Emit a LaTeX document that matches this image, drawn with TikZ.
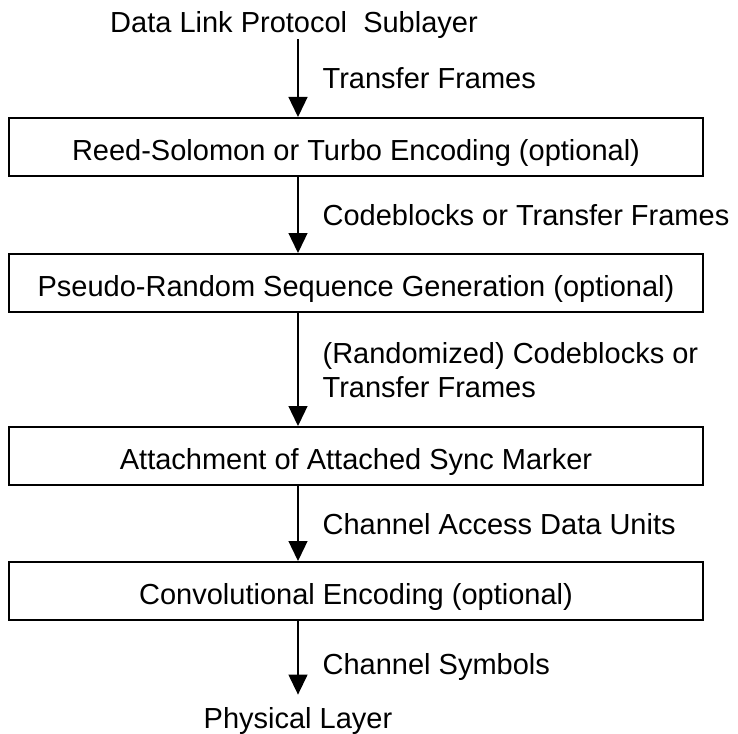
\documentclass[tikz,border=0pt]{standalone}
\usepackage{fontspec}
\setmainfont{Liberation Sans}
\usetikzlibrary{arrows.meta, positioning}

\begin{document}
\begin{tikzpicture}
	[   x=0.5pt, y=-0.5pt,
	    txt/.style={font=\fontsize{14.5}{17}\selectfont, inner sep=0pt},
	    layer/.style={txt, draw=black, line width=1pt, minimum width=347pt, text height=21pt, text depth=8pt, anchor=north},
	    flowlabel/.style={txt, anchor=west, xshift=12pt, text depth=0pt, align=left},
	]
	\tikzset{normal arrow/.style={draw, line width=0.65pt, -{Triangle[length=10pt,width=9.5pt]}}}
	\useasboundingbox (0,0) rectangle (738,733);
	\coordinate (axis) at (298,0);
	
	\node[txt,anchor=base] (dlps) at (294,33) {Data Link Protocol\ \ Sublayer};
	\node[txt,anchor=base] (phys) at (298,728) {Physical Layer};
	
	\foreach \y/\name/\desc in {117/rs/Reed-Solomon or Turbo Encoding (optional),
		253/prs/Pseudo-Random Sequence Generation (optional),
		426/asm/Attachment of Attached Sync Marker,
		561/conv/Convolutional Encoding (optional)}
	{
		\node[layer] (\name) at (356,\y) {\desc};
	}
	
	\path[normal arrow] (dlps.south -| axis) -- node[flowlabel] {Transfer Frames} (rs.north -| axis);
	\path[normal arrow] (rs.south -| axis) -- node[flowlabel] {Codeblocks or Transfer Frames} (prs.north -| axis);
	\path[normal arrow] (prs.south -| axis) -- node[flowlabel] {(Randomized) Codeblocks or\\Transfer Frames} (asm.north -| axis);
	\path[normal arrow] (asm.south -| axis) -- node[flowlabel] {Channel Access Data Units} (conv.north -| axis);
	\path[normal arrow,shorten >=6pt] (conv.south -| axis) -- node[flowlabel] {Channel Symbols} (phys.north -| axis);
\end{tikzpicture}
\end{document}
